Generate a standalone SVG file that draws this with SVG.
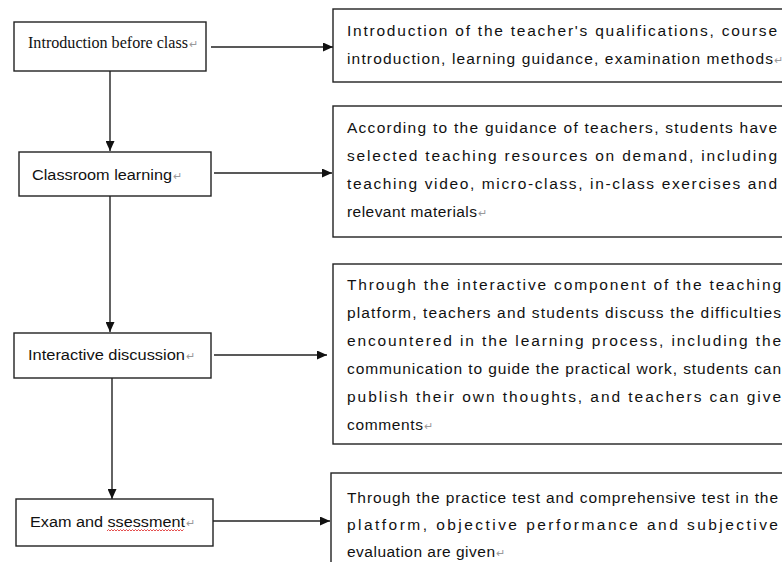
<svg xmlns="http://www.w3.org/2000/svg" width="782" height="562" viewBox="0 0 782 562">
<style>
.box{fill:#fff;stroke:#222;stroke-width:1.4}
.ln{stroke:#222;stroke-width:1.4;fill:none}
.serif{font-family:"Liberation Serif","Times New Roman",serif;font-size:16px;fill:#111}
.sans{font-family:"Liberation Sans",Arial,sans-serif;font-size:15.5px;fill:#111}
.rt{font-family:"Liberation Sans",Arial,sans-serif;font-size:15.5px;fill:#111}
.pm{fill:#999;font-size:11px}
</style>
<defs>
<marker id="ah" markerWidth="10" markerHeight="9" refX="10" refY="4.5" orient="auto" markerUnits="userSpaceOnUse">
<path d="M0,0 L10,4.5 L0,9 z" fill="#111"/>
</marker>
</defs>
<rect width="782" height="562" fill="#fff"/>

<g id="connectors">
<line class="ln" x1="211" y1="47" x2="333" y2="47" marker-end="url(#ah)"/>
<line class="ln" x1="214" y1="173" x2="332" y2="173" marker-end="url(#ah)"/>
<line class="ln" x1="214" y1="355" x2="327" y2="355" marker-end="url(#ah)"/>
<line class="ln" x1="213" y1="521" x2="330" y2="521" marker-end="url(#ah)"/>
<line class="ln" x1="110" y1="71" x2="110" y2="151" marker-end="url(#ah)"/>
<line class="ln" x1="110" y1="196" x2="110" y2="332" marker-end="url(#ah)"/>
<line class="ln" x1="112" y1="378" x2="112" y2="499" marker-end="url(#ah)"/>
</g>

<g id="n1">
<rect class="box" x="14" y="22" width="192" height="49"/>
<text class="serif" x="28" y="48" textLength="160" lengthAdjust="spacingAndGlyphs">Introduction before class</text>
<text class="serif pm" x="189" y="48">↵</text>
</g>

<g id="n2">
<rect class="box" x="19" y="152" width="192" height="44"/>
<text class="sans" x="32" y="180" textLength="140" lengthAdjust="spacingAndGlyphs">Classroom learning</text>
<text class="sans pm" x="173" y="180">↵</text>
</g>

<g id="n3">
<rect class="box" x="14" y="333" width="197" height="45"/>
<text class="sans" x="28" y="360" textLength="157" lengthAdjust="spacingAndGlyphs">Interactive discussion</text>
<text class="sans pm" x="186" y="360">↵</text>
</g>

<g id="n4">
<rect class="box" x="16" y="499" width="197" height="47"/>
<text class="sans" x="30" y="527" textLength="155" lengthAdjust="spacingAndGlyphs">Exam and ssessment</text>
<text class="sans pm" x="186" y="527">↵</text>
<path d="M107,531 l1.5,-1.5 l1.5,1.5 l1.5,-1.5 l1.5,1.5 l1.5,-1.5 l1.5,1.5 l1.5,-1.5 l1.5,1.5 l1.5,-1.5 l1.5,1.5 l1.5,-1.5 l1.5,1.5 l1.5,-1.5 l1.5,1.5 l1.5,-1.5 l1.5,1.5 l1.5,-1.5 l1.5,1.5 l1.5,-1.5 l1.5,1.5 l1.5,-1.5 l1.5,1.5 l1.5,-1.5 l1.5,1.5 l1.5,-1.5 l1.5,1.5 l1.5,-1.5 l1.5,1.5 l1.5,-1.5 l1.5,1.5 l1.5,-1.5 l1.5,1.5 l1.5,-1.5 l1.5,1.5 l1.5,-1.5 l1.5,1.5 l1.5,-1.5 l1.5,1.5 l1.5,-1.5 l1.5,1.5 l1.5,-1.5 l1.5,1.5 l1.5,-1.5 l1.5,1.5 l1.5,-1.5 l1.5,1.5 l1.5,-1.5 l1.5,1.5 l1.5,-1.5 l1.5,1.5 l1.5,-1.5" fill="none" stroke="#d22" stroke-width="0.8"/>
</g>

<g id="d1">
<rect class="box" x="333" y="9" width="460" height="73"/>
<text class="rt" x="347" y="36" textLength="430" lengthAdjust="spacing">Introduction of the teacher's qualifications, course</text>
<text class="rt" x="347" y="64" textLength="426" lengthAdjust="spacing">introduction, learning guidance, examination methods</text>
<text class="rt pm" x="774" y="64">↵</text>
</g>

<g id="d2">
<rect class="box" x="333" y="106" width="460" height="131"/>
<text class="rt" x="347" y="133" textLength="430" lengthAdjust="spacing">According to the guidance of teachers, students have</text>
<text class="rt" x="347" y="161" textLength="430" lengthAdjust="spacing">selected teaching resources on demand, including</text>
<text class="rt" x="347" y="189" textLength="430" lengthAdjust="spacing">teaching video, micro-class, in-class exercises and</text>
<text class="rt" x="347" y="217" textLength="130" lengthAdjust="spacing">relevant materials</text>
<text class="rt pm" x="478" y="217">↵</text>
</g>

<g id="d3">
<rect class="box" x="333" y="264" width="460" height="180"/>
<text class="rt" x="347" y="290" textLength="434" lengthAdjust="spacing">Through the interactive component of the teaching</text>
<text class="rt" x="347" y="318" textLength="434" lengthAdjust="spacing">platform, teachers and students discuss the difficulties</text>
<text class="rt" x="347" y="346" textLength="434" lengthAdjust="spacing">encountered in the learning process, including the</text>
<text class="rt" x="347" y="374" textLength="434" lengthAdjust="spacing">communication to guide the practical work, students can</text>
<text class="rt" x="347" y="402" textLength="434" lengthAdjust="spacing">publish their own thoughts, and teachers can give</text>
<text class="rt" x="347" y="430" textLength="76" lengthAdjust="spacing">comments</text>
<text class="rt pm" x="424" y="430">↵</text>
</g>

<g id="d4">
<rect class="box" x="331" y="473" width="462" height="100"/>
<text class="rt" x="347" y="503" textLength="431" lengthAdjust="spacing">Through the practice test and comprehensive test in the</text>
<text class="rt" x="347" y="530" textLength="431" lengthAdjust="spacing">platform, objective performance and subjective</text>
<text class="rt" x="347" y="557" textLength="148" lengthAdjust="spacing">evaluation are given</text>
<text class="rt pm" x="496" y="557">↵</text>
</g>
</svg>
